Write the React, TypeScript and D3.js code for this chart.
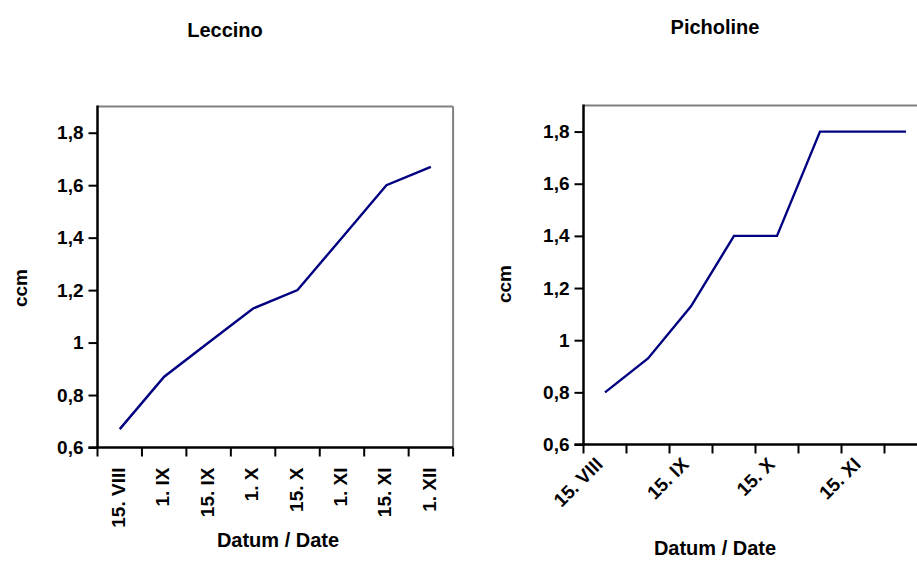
import React, { useEffect, useRef } from 'react';
import * as d3 from 'd3';

// sampling dates (15th and 1st of each month, roman month numbers)
const DATES = ['15. VIII', '1. IX', '15. IX', '1. X', '15. X', '1. XI', '15. XI', '1. XII'];
const LECCINO = [0.67, 0.87, 1.0, 1.13, 1.2, 1.4, 1.6, 1.67];
const PICHOLINE = [0.8, 0.93, 1.13, 1.4, 1.4, 1.8, 1.8, 1.8];
const Y_TICKS = [0.6, 0.8, 1, 1.2, 1.4, 1.6, 1.8];
const Y_DOMAIN: [number, number] = [0.6, 1.9];

const W = 917;
const H = 577;
const FONT = 'Arial, "Liberation Sans", sans-serif';
const FS = '19px';
const FS_TITLE = '20px';

interface Panel {
  title: string;
  values: number[];
  left: number;
  top: number;
  bandW: number;
  bottom: number;
  titleX: number;
  titleY: number;
  ccmX: number;
  ccmY: number;
  xTitleY: number;
  xTitleX: number;
  rotate: -90 | -45;
  labelEvery: number;
}

const PANELS: Panel[] = [
  {
    title: 'Leccino', values: LECCINO,
    left: 97.5, top: 106.5, bandW: 44.45, bottom: 447.5,
    titleX: 225, titleY: 37, ccmX: 27, ccmY: 288, xTitleX: 278, xTitleY: 547,
    rotate: -90, labelEvery: 1,
  },
  {
    title: 'Picholine', values: PICHOLINE,
    left: 583.5, top: 105.5, bandW: 43, bottom: 444.5,
    titleX: 715, titleY: 34, ccmX: 511, ccmY: 284, xTitleX: 715, xTitleY: 555,
    rotate: -45, labelEvery: 2,
  },
];

const fmt = (d: number) => (Math.round(d * 10) / 10).toString().replace('.', ',');

const App: React.FC = () => {
  const svgRef = useRef<SVGSVGElement>(null);

  useEffect(() => {
    if (!svgRef.current) return;
    const svg = d3.select(svgRef.current);
    svg.selectAll('*').remove();

    PANELS.forEach(p => {
      const right = p.left + p.bandW * DATES.length;
      const x = d3.scaleBand<string>().domain(DATES).range([p.left, right]).padding(0);
      const y = d3.scaleLinear().domain(Y_DOMAIN).range([p.bottom, p.top]);
      const g = svg.append('g');

      // frame: grey top and right, black axes
      g.append('line').attr('x1', p.left).attr('x2', right).attr('y1', p.top).attr('y2', p.top)
        .attr('stroke', '#808080').attr('stroke-width', 2);
      g.append('line').attr('x1', right).attr('x2', right).attr('y1', p.top).attr('y2', p.bottom)
        .attr('stroke', '#808080').attr('stroke-width', 2);

      // y axis
      const yAxis = d3.axisLeft(y).tickValues(Y_TICKS).tickSize(9).tickPadding(5).tickFormat(d => fmt(+d));
      const ya = g.append('g').attr('transform', `translate(${p.left},0)`).call(yAxis);
      ya.select('.domain').attr('stroke', '#000').attr('stroke-width', 2.5).attr('d', `M0,${p.top - 1}V${p.bottom + 1}`);
      ya.selectAll('.tick line').attr('stroke', '#000').attr('stroke-width', 2);
      ya.selectAll('.tick text').attr('fill', '#000').style('font-family', FONT)
        .style('font-size', FS).style('font-weight', 'bold');

      // x axis ticks at band boundaries
      const edges = DATES.map(d => x(d) as number).concat([right]);
      const xa = g.append('g');
      xa.append('line').attr('x1', p.left - 9).attr('x2', right).attr('y1', p.bottom).attr('y2', p.bottom)
        .attr('stroke', '#000').attr('stroke-width', 2.5);
      xa.selectAll('line.tk').data(edges).join('line').attr('class', 'tk')
        .attr('x1', d => d).attr('x2', d => d).attr('y1', p.bottom).attr('y2', p.bottom + 9)
        .attr('stroke', '#000').attr('stroke-width', 2);

      const cx = (d: string) => (x(d) as number) + x.bandwidth() / 2;
      xa.selectAll('text.lbl').data(DATES.filter((_, i) => i % p.labelEvery === 0)).join('text')
        .attr('class', 'lbl')
        .attr('transform', d => p.rotate === -90
          ? `translate(${cx(d) + 5},${p.bottom + 20}) rotate(-90)`
          : `translate(${cx(d) - 1},${p.bottom + 21}) rotate(-45)`)
        .attr('text-anchor', 'end')
        .attr('fill', '#000')
        .style('font-family', FONT).style('font-size', FS).style('font-weight', 'bold')
        .text(d => d);

      // series line
      const line = d3.line<number>()
        .x((_, i) => cx(DATES[i]))
        .y(v => y(v));
      g.append('path').datum(p.values).attr('d', line)
        .attr('fill', 'none').attr('stroke', '#000080').attr('stroke-width', 2.4);

      // titles
      g.append('text').attr('x', p.titleX).attr('y', p.titleY).attr('text-anchor', 'middle')
        .style('font-family', FONT).style('font-size', FS_TITLE).style('font-weight', 'bold').text(p.title);
      g.append('text').attr('transform', `translate(${p.ccmX},${p.ccmY}) rotate(-90)`).attr('text-anchor', 'middle')
        .style('font-family', FONT).style('font-size', FS).style('font-weight', 'bold').text('ccm');
      g.append('text').attr('x', p.xTitleX).attr('y', p.xTitleY).attr('text-anchor', 'middle')
        .style('font-family', FONT).style('font-size', FS_TITLE).style('font-weight', 'bold').text('Datum / Date');
    });
  }, []);

  return (
    <svg ref={svgRef} width={W} height={H}
      style={{ position: 'absolute', left: 0, top: 0, background: '#fff', overflow: 'hidden' }} />
  );
};

export default App;
